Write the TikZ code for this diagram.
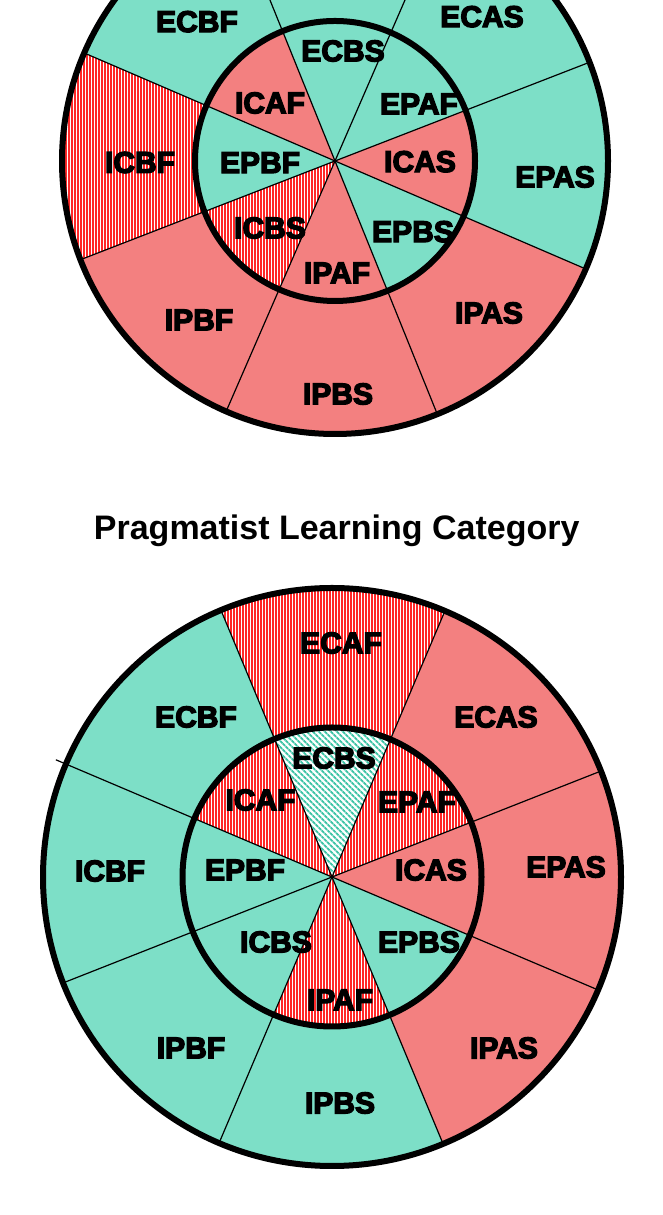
\documentclass[tikz,border=0pt]{standalone}
\usepackage{fontspec}
\setmainfont{Liberation Sans}
\newfontfamily\labfont{Liberation Sans}[BoldFeatures={FakeBold=4.5}]
\usetikzlibrary{patterns.meta}
\definecolor{cyanf}{RGB}{125,223,199}
\definecolor{salmonf}{RGB}{243,128,128}
\definecolor{stripered}{RGB}{255,40,40}
\definecolor{stripecyan}{RGB}{62,196,166}
\tikzset{
  cyanfill/.style={fill=cyanf},
  salmonfill/.style={fill=salmonf},
  redstripes/.style={fill=white, postaction={pattern={Lines[angle=90,distance=3pt,line width=1.2pt]}, pattern color=stripered}},
  cyanstripes/.style={fill=white, postaction={pattern={Lines[angle=-45,distance=4pt,line width=2pt]}, pattern color=stripecyan}},
  ringline/.style={draw=black, line width=6pt},
  divider/.style={draw=black, line width=1.2pt},
  lab/.style={font=\labfont\bfseries\fontsize{30}{30}\selectfont, inner sep=0pt},
  titlefont/.style={font=\bfseries\fontsize{34}{40}\selectfont, inner sep=0pt, anchor=base}
}
\newcommand\pieslice[5]{\path[#5] (#1) -- ++(#3:#2) arc[start angle=#3, end angle=#4, radius=#2] -- cycle;}
\begin{document}
\begin{tikzpicture}[x=1pt,y=1pt]
\useasboundingbox (0,0) rectangle (663,1215);
\clip (0,0) rectangle (663,1215);
\fill[white] (0,0) rectangle (663,1215);

% ================= TOP DIAGRAM =================
\coordinate (ct) at (335,1054);
% outer ring
\pieslice{ct}{273}{66.5}{112}{cyanfill}
\pieslice{ct}{273}{112}{156.7}{cyanfill}
\pieslice{ct}{273}{156.7}{201.2}{redstripes}
\pieslice{ct}{273}{201.2}{246.5}{salmonfill}
\pieslice{ct}{273}{246.5}{292}{salmonfill}
\pieslice{ct}{273}{292}{336.7}{salmonfill}
\pieslice{ct}{273}{336.7}{381.2}{cyanfill}
\pieslice{ct}{273}{21.2}{66.5}{cyanfill}
% inner ring
\pieslice{ct}{140}{66.5}{112}{cyanfill}
\pieslice{ct}{140}{112}{156.7}{salmonfill}
\pieslice{ct}{140}{156.7}{201.2}{cyanfill}
\pieslice{ct}{140}{201.2}{246.5}{redstripes}
\pieslice{ct}{140}{246.5}{292}{salmonfill}
\pieslice{ct}{140}{292}{336.7}{cyanfill}
\pieslice{ct}{140}{336.7}{381.2}{salmonfill}
\pieslice{ct}{140}{21.2}{66.5}{cyanfill}
% dividers
\draw[divider] ([shift={(66.5:273)}]ct) -- ([shift={(246.5:273)}]ct);
\draw[divider] ([shift={(112:273)}]ct) -- ([shift={(292:273)}]ct);
\draw[divider] ([shift={(156.7:273)}]ct) -- ([shift={(336.7:273)}]ct);
\draw[divider] ([shift={(201.2:273)}]ct) -- ([shift={(21.2:273)}]ct);
% rings
\draw[ringline] (ct) circle[radius=273];
\draw[ringline] (ct) circle[radius=140];
% labels
\node[lab] (tECBF) at (197,{1215-21.7}) {ECBF};
\node[lab] (tECAS) at (482,{1215-16.7}) {ECAS};
\node[lab] (tECBS) at (343,{1215-51}) {ECBS};
\node[lab] (tICAF) at (270,{1215-103}) {ICAF};
\node[lab] (tEPAF) at (419,{1215-104}) {EPAF};
\node[lab] (tICBF) at (140,{1215-162.5}) {ICBF};
\node[lab] (tEPBF) at (260,{1215-162.7}) {EPBF};
\node[lab] (tICAS) at (420,{1215-161.7}) {ICAS};
\node[lab] (tEPAS) at (555,{1215-177}) {EPAS};
\node[lab] (tICBS) at (270,{1215-228}) {ICBS};
\node[lab] (tEPBS) at (413,{1215-231.7}) {EPBS};
\node[lab] (tIPAF) at (337,{1215-273}) {IPAF};
\node[lab] (tIPBF) at (199,{1215-320}) {IPBF};
\node[lab] (tIPAS) at (489,{1215-313}) {IPAS};
\node[lab] (tIPBS) at (338,{1215-394}) {IPBS};

% ================= TITLE =================
\node[titlefont] (title) at (336.7,{1215-540}) {Pragmatist Learning Category};

% ================= BOTTOM DIAGRAM =================
\coordinate (cb) at (332,338);
% outer ring
\pieslice{cb}{289}{67}{112.6}{redstripes}
\pieslice{cb}{289}{112.6}{157}{cyanfill}
\pieslice{cb}{289}{157}{201.5}{cyanfill}
\pieslice{cb}{289}{201.5}{247}{cyanfill}
\pieslice{cb}{289}{247}{292.6}{cyanfill}
\pieslice{cb}{289}{292.6}{337}{salmonfill}
\pieslice{cb}{289}{337}{381.5}{salmonfill}
\pieslice{cb}{289}{21.5}{67}{salmonfill}
% inner ring
\pieslice{cb}{149.5}{67}{112.6}{cyanstripes}
\pieslice{cb}{149.5}{112.6}{157}{redstripes}
\pieslice{cb}{149.5}{157}{201.5}{cyanfill}
\pieslice{cb}{149.5}{201.5}{247}{cyanfill}
\pieslice{cb}{149.5}{247}{292.6}{redstripes}
\pieslice{cb}{149.5}{292.6}{337}{cyanfill}
\pieslice{cb}{149.5}{337}{381.5}{salmonfill}
\pieslice{cb}{149.5}{21.5}{67}{redstripes}
% dividers
\draw[divider] ([shift={(67:289)}]cb) -- ([shift={(247:289)}]cb);
\draw[divider] ([shift={(112.6:289)}]cb) -- ([shift={(292.6:289)}]cb);
\draw[divider] ([shift={(157:300)}]cb) -- ([shift={(337:289)}]cb);
\draw[divider] ([shift={(201.5:289)}]cb) -- ([shift={(21.5:289)}]cb);
% rings
\draw[ringline] (cb) circle[radius=289];
\draw[ringline] (cb) circle[radius=149.5];
% labels
\node[lab] (bECAF) at (341,{1215-643}) {ECAF};
\node[lab] (bECBF) at (196,{1215-717}) {ECBF};
\node[lab] (bECAS) at (496,{1215-717}) {ECAS};
\node[lab] (bECBS) at (334,{1215-758}) {ECBS};
\node[lab] (bICAF) at (260.5,{1215-800}) {ICAF};
\node[lab] (bEPAF) at (417,{1215-802}) {EPAF};
\node[lab] (bICBF) at (110,{1215-871}) {ICBF};
\node[lab] (bEPBF) at (245,{1215-870}) {EPBF};
\node[lab] (bICAS) at (431,{1215-870}) {ICAS};
\node[lab] (bEPAS) at (566,{1215-867}) {EPAS};
\node[lab] (bICBS) at (276,{1215-942}) {ICBS};
\node[lab] (bEPBS) at (419,{1215-942}) {EPBS};
\node[lab] (bIPAF) at (340,{1215-1000}) {IPAF};
\node[lab] (bIPBF) at (191,{1215-1048}) {IPBF};
\node[lab] (bIPAS) at (504,{1215-1048}) {IPAS};
\node[lab] (bIPBS) at (340,{1215-1103}) {IPBS};
\end{tikzpicture}
\end{document}
